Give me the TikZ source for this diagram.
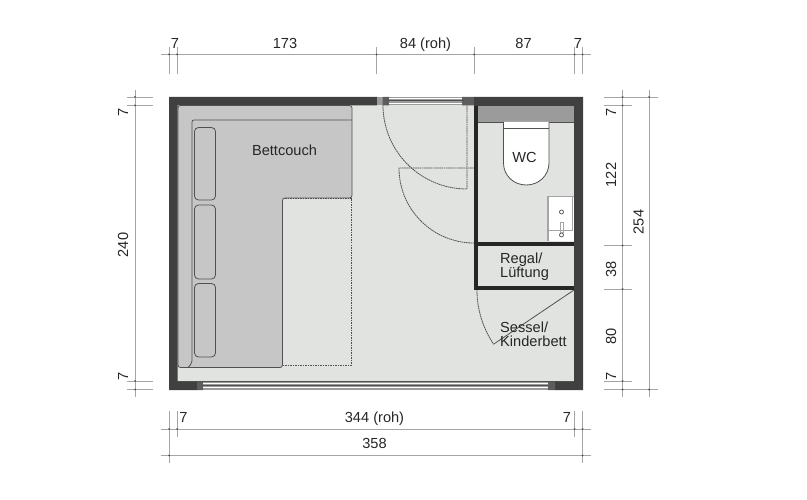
\documentclass[tikz,border=0pt]{standalone}
\usepackage{fontspec}
\setmainfont{Liberation Sans}
\definecolor{wall}{RGB}{64,64,64}
\definecolor{floorc}{RGB}{225,227,224}
\definecolor{couch}{RGB}{198,198,198}
\definecolor{band}{RGB}{155,155,155}
\definecolor{dim}{RGB}{165,165,165}
\definecolor{lin}{RGB}{80,80,80}
\tikzset{
 dimline/.style={draw=dim,line width=.8pt},
 furn/.style={draw=lin,line width=.8pt},
 swing/.style={draw=lin,line width=.8pt,dash pattern=on 1.6pt off .6pt},
 lab/.style={font=\fontsize{14.6}{15}\selectfont,inner sep=0pt,text=black!85,anchor=base},
 room/.style={font=\fontsize{14.6}{14.2}\selectfont,inner sep=0pt,align=left,text=black!85},
 part/.style={draw=black!85,line width=4pt}
}
\begin{document}
\begin{tikzpicture}[x=1pt,y=-1pt]
\useasboundingbox (0,0) rectangle (807,500);
% floor and walls
\fill[floorc] (169,97) rectangle (583,390);
\fill[wall] (169,97) rectangle (377,105.5) (474,97) rectangle (583,106) (169,97) rectangle (177.5,390) (574,97) rectangle (583,390) (169,381) rectangle (197,390) (555,381) rectangle (583,390);
% top window
\fill[band] (377,97) rectangle (474,105.5);
\fill[wall!85!white] (382.5,97) rectangle (389,105.5) (462,97) rectangle (474,105.5);
\draw[white,line width=.8pt] (389,98.5) -- (462,98.5) (389,103.5) -- (462,103.5);
\draw[lin,line width=1pt] (387,101) -- (464,101);
% bottom window
\fill[band] (197,381) rectangle (555,390);
\fill[wall!85!white] (197,381) rectangle (203,390) (548,381) rectangle (555,390);
\draw[white,line width=.8pt] (203,383) -- (548,383) (203,387.5) -- (548,387.5);
\draw[lin,line width=.9pt] (178,381) -- (574,381);
\draw[lin,line width=1pt] (203,385.3) -- (548,385.3);
% WC
\fill[band] (478,106) rectangle (574,122);
\draw[lin,line width=.6pt] (478,122) -- (574,122);
\draw[furn,fill=white] (503.5,122) -- (503.5,163) .. controls (503.5,175.5) and (513.7,185) .. (526.2,185) .. controls (538.8,185) and (549,175.5) .. (549,163) -- (549,122);
\draw[furn] (503.5,128) -- (549,128);
% sink
\fill[white] (548,196) rectangle (574,241);
\draw[draw=dim,line width=1.3pt] (548,241) -- (548,196.5) -- (574,196.5);
\draw[draw=dim,line width=.9pt] (572.5,197) -- (572.5,230.5) -- (548.5,230.5);
\node[draw=lin,circle,line width=.7pt,minimum size=4pt,inner sep=0pt] (drain) at (561.5,212) {};
\node[draw=lin,circle,line width=.7pt,minimum size=4pt,inner sep=0pt] (tap) at (561.5,235) {};
\draw[dim,line width=.7pt] (560,222.5) rectangle (563,232.5);
% door swings
\draw[swing] (383,105) .. controls (383,151.4) and (420.6,189) .. (467,189) -- (467,105);
\draw[swing] (474,168) -- (399,168) .. controls (399,209.4) and (432.6,243) .. (474,243);
\draw[swing] (477,290) .. controls (477,309.3) and (482.8,328.2) .. (493.6,344.2);
\draw[lin,line width=.8pt] (493.6,344.2) -- (574,290);
% partitions
\draw[part] (476,97) -- (476,290);
\draw[part] (476,243.8) -- (574,243.8);
\draw[part] (474,288) -- (574,288);
\fill[wall] (474,97) rectangle (574,106);
% mattress
\draw[draw=lin,line width=.6pt,dash pattern=on 1.5pt off 1pt] (282.5,198) -- (351,198) -- (351,365) -- (282.5,365);
% couch
\draw[furn,fill=couch,rounded corners=2.5pt] (178,105.5) -- (352,105.5) -- (352,198) -- (282.5,198) -- (282.5,367.5) -- (178,367.5) -- cycle;
\draw[furn,rounded corners=2pt] (352,120) -- (192,120) -- (192,363) -- (188,367.5);
\draw[furn,rounded corners=4pt] (194.5,127.5) rectangle (215.5,200);
\draw[furn,rounded corners=4pt] (194.5,205) rectangle (215.5,279);
\draw[furn,rounded corners=4pt] (194.5,283.5) rectangle (215.5,357);
% room labels
\node[room,anchor=center] (bett) at (284.5,150.5) {Bettcouch};
\node[lab] (wc) at (524.5,162.3) {WC};
\node[room,anchor=north west] (regal) at (500,252.5) {Regal/\\Lüftung};
\node[room,anchor=north west] (sessel) at (500,321.5) {Sessel/\\Kinderbett};
% top dimensions
\draw[dimline] (161,54.5) -- (591,54.5);
\foreach \x in {169,177,376.5,474,574.5,582.5}{\draw[dimline] (\x,47.5) -- (\x,74); \fill[lin] (\x,54.5) circle (1pt);}
\node[lab] (t1) at (175,49) {7};
\node[lab] (t2) at (285,49) {173};
\node[lab] (t3) at (425.5,49) {84 (roh)};
\node[lab] (t4) at (523.5,49) {87};
\node[lab] (t5) at (578,49) {7};
% left dimensions
\draw[dimline] (135,90) -- (135,397);
\foreach \y in {97,105.5,381,389.5}{\draw[dimline] (127,\y) -- (153,\y); \fill[lin] (135,\y) circle (1pt);}
\node[lab,rotate=90] (l1) at (128,112) {7};
\node[lab,rotate=90] (l2) at (128,245) {240};
\node[lab,rotate=90] (l3) at (128,376) {7};
% right dimensions
\draw[dimline] (622.5,90) -- (622.5,397);
\draw[dimline] (649,90) -- (649,397);
\draw[dimline] (604,97) -- (658,97) (604,389.5) -- (658,389.5);
\foreach \y in {105.5,245.5,289,381}{\draw[dimline] (604,\y) -- (631.5,\y);}
\foreach \y in {97,105.5,245.5,289,381,389.5}{\fill[lin] (622.5,\y) circle (1pt);}
\fill[lin] (649,97) circle (1pt) (649,389.5) circle (1pt);
\node[lab,rotate=90] (r1) at (616,112) {7};
\node[lab,rotate=90] (r2) at (616,175) {122};
\node[lab,rotate=90] (r3) at (616,269) {38};
\node[lab,rotate=90] (r4) at (616,336) {80};
\node[lab,rotate=90] (r5) at (616,376) {7};
\node[lab,rotate=90] (r6) at (643.5,222) {254};
% bottom dimensions
\draw[dimline] (161,429) -- (591,429);
\draw[dimline] (161,455.5) -- (591,455.5);
\draw[dimline] (169,411) -- (169,463) (582.5,411) -- (582.5,463) (177,411) -- (177,437) (574.5,411) -- (574.5,437);
\foreach \x in {169,177,574.5,582.5}{\fill[lin] (\x,429) circle (1pt);}
\fill[lin] (169,455.5) circle (1pt) (582.5,455.5) circle (1pt);
\node[lab] (b1) at (183.5,422.7) {7};
\node[lab] (b2) at (374.5,422.7) {344 (roh)};
\node[lab] (b3) at (567,422.7) {7};
\node[lab] (b4) at (374.5,448.3) {358};
\end{tikzpicture}
\end{document}
